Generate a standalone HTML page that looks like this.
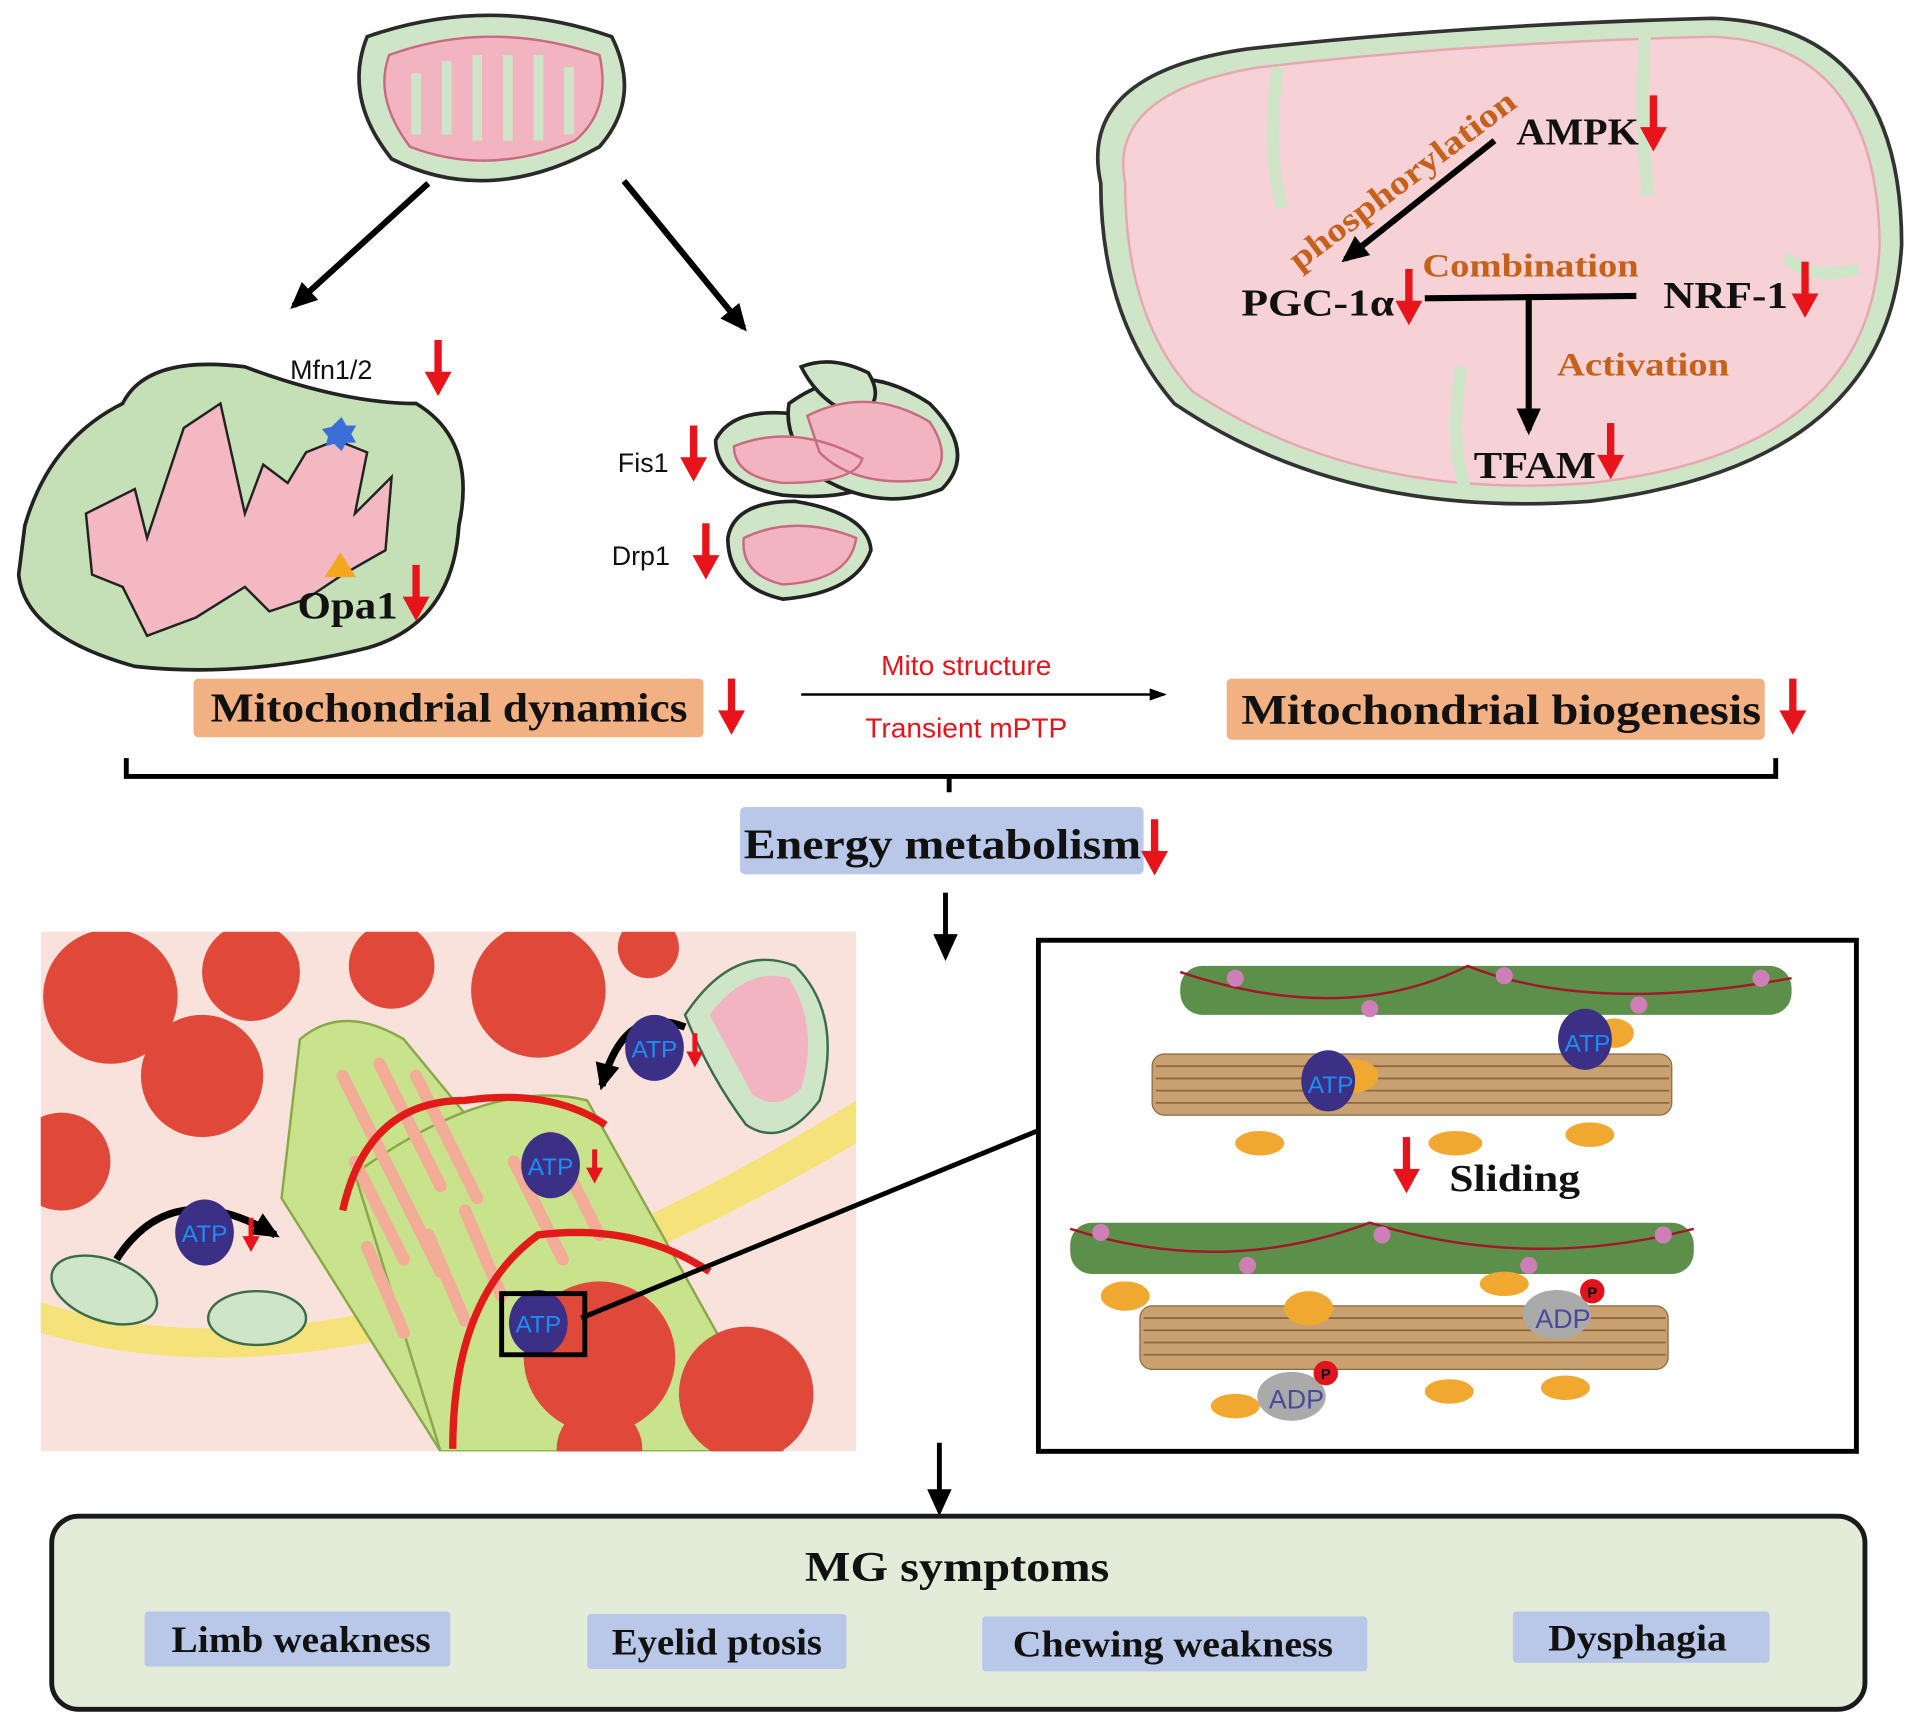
<!DOCTYPE html>
<html><head><meta charset="utf-8"><style>
html,body{margin:0;padding:0;background:#fff}
svg{display:block}
.b{font-family:"Liberation Serif",serif;font-weight:bold}
.s{font-family:"Liberation Sans",sans-serif}
</style></head><body>
<svg width="1913" height="1724" viewBox="0 0 1564 1410" xmlns="http://www.w3.org/2000/svg">
<defs>
<marker id="ah" markerWidth="22" markerHeight="20" refX="18" refY="10" orient="auto" markerUnits="userSpaceOnUse"><path d="M0,0 L22,10 L0,20 z" fill="#000"/></marker>
<marker id="as" markerWidth="14" markerHeight="10" refX="12" refY="5" orient="auto" markerUnits="userSpaceOnUse"><path d="M0,0 L14,5 L0,10 z" fill="#000"/></marker>
<g id="ra"><rect x="-3" y="0" width="6" height="30" fill="#e8141b"/><path d="M-11,26 L11,26 L0,46 z" fill="#e8141b"/></g>
<g id="rs"><rect x="-2" y="0" width="4" height="18" fill="#e8141b"/><path d="M-7,15 L7,15 L0,28 z" fill="#e8141b"/></g>
<clipPath id="mc"><rect x="33" y="762" width="667" height="425"/></clipPath>
</defs>
<rect width="1564" height="1410" fill="#fff"/>
<!-- top mito -->
<path d="M300,30 Q400,-5 500,30 Q525,80 490,120 Q400,170 320,130 Q280,80 300,30z" fill="#cfe5c8" stroke="#2a2a2a" stroke-width="3"/>
<path d="M318,45 Q400,15 490,45 Q500,90 470,115 Q400,145 335,120 Q305,80 318,45z" fill="#f2b4c0" stroke="#c86a80" stroke-width="2"/>
<path d="M340,60 v50 M365,50 v60 M390,45 v70 M415,45 v70 M440,45 v70 M465,55 v55" stroke="#cfe5c8" stroke-width="8"/>
<line x1="350" y1="150" x2="240" y2="250" stroke="#000" stroke-width="5" marker-end="url(#ah)"/>
<line x1="510" y1="148" x2="608" y2="268" stroke="#000" stroke-width="5" marker-end="url(#ah)"/>
<!-- left mito -->
<path d="M20,430 Q40,360 100,330 Q120,290 200,300 Q280,330 340,330 Q390,360 375,430 Q370,510 300,530 Q200,555 110,545 Q20,520 15,470z" fill="#c5e0b6" stroke="#222" stroke-width="3"/>
<path d="M70,420 L110,400 L120,440 L150,350 L180,330 L200,420 L215,380 L235,395 L250,370 L275,360 L300,370 L290,420 L320,390 L315,450 L280,470 L250,490 L220,500 L200,480 L160,505 L120,520 L100,480 L75,470z" fill="#f4b8c2" stroke="#222" stroke-width="2"/>
<path d="M273,347 l6,-6 l4,7 l8,0 l-4,7 l4,7 l-8,0 l-4,7 l-6,-6 l-7,2 l2,-8 l-5,-6 l8,-2z" fill="#3a6fd8"/>
<path d="M265,472 L278,452 L291,472z" fill="#f2a81a"/>
<text x="237" y="310" class="s" font-size="22" fill="#111">Mfn1/2</text>
<use href="#ra" x="358" y="278"/>
<text x="243" y="506" class="b" font-size="32" fill="#111" textLength="82" lengthAdjust="spacingAndGlyphs">Opa1</text>
<use href="#ra" x="340" y="462"/>
<!-- small mitos -->
<path d="M585,360 Q600,330 660,340 Q720,350 720,390 Q700,410 640,405 Q585,395 585,360z" fill="#cfe5c8" stroke="#222" stroke-width="3"/>
<path d="M645,330 Q700,290 760,330 Q800,370 770,400 Q720,420 670,390 Q640,360 645,330z" fill="#cfe5c8" stroke="#222" stroke-width="3"/>
<path d="M655,300 Q680,290 710,305 Q725,330 700,340 Q670,330 655,300z" fill="#cfe5c8" stroke="#222" stroke-width="3"/>
<path d="M595,440 Q600,410 650,410 Q710,420 712,450 Q700,485 640,490 Q595,480 595,440z" fill="#cfe5c8" stroke="#222" stroke-width="3"/>
<path d="M600,365 Q650,345 705,375 Q700,395 640,395 Q600,390 600,365z M660,340 Q710,315 760,345 Q780,375 760,392 Q700,400 670,370z M608,440 Q650,420 700,440 Q695,475 640,478 Q605,470 608,440z" fill="#f2b4c0" stroke="#c86a80" stroke-width="2"/>
<text x="505" y="386" class="s" font-size="22" fill="#111">Fis1</text>
<use href="#ra" x="567" y="348"/>
<text x="500" y="462" class="s" font-size="22" fill="#111">Drp1</text>
<use href="#ra" x="577" y="428"/>
<!-- big mito right -->
<path d="M900,150 Q880,60 1020,40 Q1200,20 1400,15 Q1555,20 1555,200 Q1545,380 1300,410 Q1100,425 960,330 Q900,260 900,150z" fill="#cfe5c8" stroke="#333" stroke-width="3"/>
<path d="M920,150 Q905,75 1030,55 Q1200,35 1400,30 Q1535,35 1537,200 Q1530,370 1300,395 Q1110,410 975,320 Q920,260 920,150z" fill="#f6d2d6" stroke="#e6a8b0" stroke-width="2"/>
<path d="M1045,55 Q1035,120 1048,170 M1345,30 Q1340,100 1348,160 M1195,300 Q1185,360 1198,400 M1520,220 Q1480,230 1460,210" stroke="#cfe5c8" stroke-width="10" fill="none"/>
<text x="1240" y="118" class="b" font-size="31" fill="#111" textLength="100" lengthAdjust="spacingAndGlyphs">AMPK</text>
<use href="#ra" x="1352" y="78"/>
<line x1="1222" y1="115" x2="1100" y2="212" stroke="#000" stroke-width="5" marker-end="url(#ah)"/>
<text x="0" y="0" class="b" font-size="27" fill="#c5611b" transform="translate(1062,222) rotate(-37)" textLength="225" lengthAdjust="spacingAndGlyphs">phosphorylation</text>
<text x="1015" y="258" class="b" font-size="31" fill="#111" textLength="125" lengthAdjust="spacingAndGlyphs">PGC-1α</text>
<use href="#ra" x="1152" y="220"/>
<text x="1360" y="252" class="b" font-size="31" fill="#111" textLength="102" lengthAdjust="spacingAndGlyphs">NRF-1</text>
<use href="#ra" x="1476" y="214"/>
<text x="1163" y="226" class="b" font-size="27" fill="#c5611b" textLength="177" lengthAdjust="spacingAndGlyphs">Combination</text>
<line x1="1165" y1="244" x2="1338" y2="242" stroke="#000" stroke-width="5"/>
<line x1="1250" y1="244" x2="1250" y2="352" stroke="#000" stroke-width="5" marker-end="url(#ah)"/>
<text x="1273" y="307" class="b" font-size="27" fill="#c5611b" textLength="141" lengthAdjust="spacingAndGlyphs">Activation</text>
<text x="1205" y="391" class="b" font-size="31" fill="#111" textLength="100" lengthAdjust="spacingAndGlyphs">TFAM</text>
<use href="#ra" x="1317" y="346"/>
<!-- row -->
<rect x="158" y="555" width="417" height="48" rx="4" fill="#f1b183"/>
<text x="172" y="590" class="b" font-size="34" fill="#111" textLength="390" lengthAdjust="spacingAndGlyphs">Mitochondrial dynamics</text>
<use href="#ra" x="598" y="555"/>
<text x="790" y="552" class="s" font-size="23" fill="#e8141b" text-anchor="middle">Mito structure</text>
<line x1="655" y1="568" x2="952" y2="568" stroke="#000" stroke-width="2" marker-end="url(#as)"/>
<text x="790" y="603" class="s" font-size="23" fill="#e8141b" text-anchor="middle">Transient mPTP</text>
<rect x="1003" y="555" width="440" height="50" rx="4" fill="#f1b183"/>
<text x="1015" y="592" class="b" font-size="35" fill="#111" textLength="425" lengthAdjust="spacingAndGlyphs">Mitochondrial biogenesis</text>
<use href="#ra" x="1466" y="555"/>
<path d="M103,620 V635 H1452 V620 M776,635 V648" stroke="#000" stroke-width="4" fill="none"/>
<rect x="605" y="660" width="330" height="55" rx="4" fill="#b9c8e8"/>
<text x="608" y="702" class="b" font-size="35" fill="#111" textLength="325" lengthAdjust="spacingAndGlyphs">Energy metabolism</text>
<use href="#ra" x="944" y="670"/>
<line x1="773" y1="730" x2="773" y2="782" stroke="#000" stroke-width="4" marker-end="url(#ah)"/>
<!-- muscle -->
<g clip-path="url(#mc)">
<rect x="33" y="762" width="667" height="425" fill="#f9e2dc"/>
<path d="M33,1065 Q300,1150 700,900 L700,935 Q300,1170 33,1090z" fill="#f6e27a"/>
<g fill="#e0483a">
<circle cx="90" cy="815" r="55"/><circle cx="205" cy="795" r="40"/><circle cx="320" cy="790" r="35"/><circle cx="440" cy="810" r="55"/><circle cx="530" cy="775" r="25"/><circle cx="165" cy="880" r="50"/><circle cx="50" cy="950" r="40"/>
</g>
<path d="M245,850 Q280,820 330,850 L560,1130 L560,1187 L360,1187 L230,980z" fill="#c9e28c" stroke="#8aa84a" stroke-width="2"/>
<path d="M290,960 Q400,880 480,900 L640,1187 L360,1187z" fill="#c9e28c" stroke="#8aa84a" stroke-width="2"/>
<g stroke="#f2ac98" stroke-width="10" stroke-linecap="round">
<path d="M280,880 l40,80 M310,870 l50,100 M340,880 l50,100 M290,950 l40,80 M320,960 l40,80 M380,990 l30,70 M350,1010 l30,70 M420,950 l40,80 M450,930 l40,80 M300,1020 l30,70"/>
</g>
<path d="M280,990 Q300,900 380,900 Q450,890 495,920 M370,1185 Q370,1060 440,1010 Q520,1000 580,1040" stroke="#e11c18" stroke-width="6" fill="none"/>
<circle cx="490" cy="1110" r="62" fill="#e0483a"/><circle cx="610" cy="1140" r="55" fill="#e0483a"/><circle cx="490" cy="1185" r="35" fill="#e0483a"/>
</g>
<path d="M560,830 Q600,770 650,790 Q690,830 670,900 Q640,940 610,920 Q580,880 560,830z" fill="#cfe5c8" stroke="#3b6b4a" stroke-width="2"/>
<path d="M580,830 Q610,790 645,800 Q670,840 655,890 Q635,910 615,895z" fill="#f2b4c0"/>
<ellipse cx="85" cy="1055" rx="45" ry="25" fill="#cfe5c8" stroke="#3b6b4a" stroke-width="2" transform="rotate(20 85 1055)"/>
<ellipse cx="210" cy="1078" rx="40" ry="22" fill="#cfe5c8" stroke="#3b6b4a" stroke-width="2"/>
<path d="M95,1030 Q140,960 225,1010" stroke="#000" stroke-width="6" fill="none" marker-end="url(#ah)"/>
<path d="M560,840 Q510,820 492,888" stroke="#000" stroke-width="6" fill="none" marker-end="url(#ah)"/>
<g class="s" font-size="20" fill="#1e8ef0">
<ellipse cx="535" cy="857" rx="24" ry="27" fill="#3b2f86"/><text x="535" y="865" text-anchor="middle">ATP</text>
<ellipse cx="450" cy="953" rx="24" ry="27" fill="#3b2f86"/><text x="450" y="961" text-anchor="middle">ATP</text>
<ellipse cx="167" cy="1008" rx="24" ry="27" fill="#3b2f86"/><text x="167" y="1016" text-anchor="middle">ATP</text>
<ellipse cx="440" cy="1082" rx="24" ry="27" fill="#3b2f86"/><text x="440" y="1090" text-anchor="middle">ATP</text>
</g>
<use href="#rs" x="568" y="845"/><use href="#rs" x="486" y="940"/><use href="#rs" x="205" y="996"/>
<rect x="410" y="1058" width="68" height="50" fill="none" stroke="#000" stroke-width="4"/>
<line x1="475" y1="1078" x2="848" y2="925" stroke="#000" stroke-width="4"/>
<!-- sarcomere box -->
<rect x="849" y="769" width="669" height="418" fill="#fff" stroke="#000" stroke-width="4"/>
<g>
<rect x="965" y="790" width="500" height="40" rx="18" fill="#5b8f4a"/>
<rect x="875" y="1000" width="510" height="42" rx="18" fill="#5b8f4a"/>
<path d="M965,795 Q1100,840 1200,790 Q1300,830 1465,800 M875,1005 Q1000,1045 1120,1000 Q1250,1040 1385,1005" stroke="#a0182a" stroke-width="2" fill="none"/>
<g fill="#cf7fb8"><circle cx="1010" cy="800" r="7"/><circle cx="1120" cy="825" r="7"/><circle cx="1230" cy="798" r="7"/><circle cx="1340" cy="822" r="7"/><circle cx="1440" cy="800" r="7"/><circle cx="900" cy="1008" r="7"/><circle cx="1020" cy="1035" r="7"/><circle cx="1130" cy="1010" r="7"/><circle cx="1250" cy="1035" r="7"/><circle cx="1360" cy="1010" r="7"/></g>
<rect x="942" y="862" width="425" height="50" rx="10" fill="#c9a070" stroke="#8a6a40"/>
<rect x="932" y="1068" width="432" height="52" rx="10" fill="#c9a070" stroke="#8a6a40"/>
<g stroke="#8a6a40" stroke-width="1.5"><path d="M945,872 H1365 M945,882 H1365 M945,892 H1365 M945,902 H1365 M935,1078 H1362 M935,1088 H1362 M935,1098 H1362 M935,1108 H1362"/></g>
<g fill="#f0a830"><ellipse cx="1105" cy="880" rx="22" ry="14"/><ellipse cx="1030" cy="935" rx="20" ry="10"/><ellipse cx="1190" cy="935" rx="22" ry="10"/><ellipse cx="1300" cy="928" rx="20" ry="10"/><ellipse cx="1320" cy="845" rx="16" ry="12"/><ellipse cx="920" cy="1060" rx="20" ry="12"/><ellipse cx="1070" cy="1070" rx="20" ry="14"/><ellipse cx="1230" cy="1050" rx="20" ry="10"/><ellipse cx="1010" cy="1150" rx="20" ry="10"/><ellipse cx="1185" cy="1138" rx="20" ry="10"/><ellipse cx="1280" cy="1135" rx="20" ry="10"/></g>
<g class="s" font-size="20" fill="#1e8ef0">
<ellipse cx="1296" cy="850" rx="22" ry="25" fill="#3b2f86"/><text x="1298" y="860" text-anchor="middle">ATP</text>
<ellipse cx="1086" cy="884" rx="22" ry="25" fill="#3b2f86"/><text x="1088" y="894" text-anchor="middle">ATP</text>
</g>
<g class="s" font-size="22" fill="#4a4a9a">
<ellipse cx="1273" cy="1075" rx="28" ry="20" fill="#aaa"/><text x="1278" y="1086" text-anchor="middle">ADP</text>
<ellipse cx="1056" cy="1142" rx="28" ry="20" fill="#aaa"/><text x="1060" y="1152" text-anchor="middle">ADP</text>
</g>
<circle cx="1302" cy="1056" r="10" fill="#e0141b"/><text x="1302" y="1061" class="s" font-size="12" font-weight="bold" text-anchor="middle">P</text>
<circle cx="1084" cy="1123" r="10" fill="#e0141b"/><text x="1084" y="1128" class="s" font-size="12" font-weight="bold" text-anchor="middle">P</text>
</g>
<use href="#ra" x="1150" y="930"/>
<text x="1185" y="974" class="b" font-size="31" fill="#111" textLength="107" lengthAdjust="spacingAndGlyphs">Sliding</text>
<line x1="768" y1="1180" x2="768" y2="1236" stroke="#000" stroke-width="4" marker-end="url(#ah)"/>
<!-- MG symptoms -->
<rect x="42" y="1240" width="1483" height="158" rx="22" fill="#e3ecd9" stroke="#1a1a1a" stroke-width="4"/>
<text x="658" y="1293" class="b" font-size="35" fill="#111" textLength="249" lengthAdjust="spacingAndGlyphs">MG symptoms</text>
<rect x="118" y="1318" width="250" height="45" rx="3" fill="#b9c8e8"/>
<text x="140" y="1351" class="b" font-size="30" fill="#111" textLength="212" lengthAdjust="spacingAndGlyphs">Limb weakness</text>
<rect x="480" y="1320" width="212" height="45" rx="3" fill="#b9c8e8"/>
<text x="500" y="1353" class="b" font-size="30" fill="#111" textLength="172" lengthAdjust="spacingAndGlyphs">Eyelid ptosis</text>
<rect x="803" y="1322" width="315" height="45" rx="3" fill="#b9c8e8"/>
<text x="828" y="1355" class="b" font-size="30" fill="#111" textLength="262" lengthAdjust="spacingAndGlyphs">Chewing weakness</text>
<rect x="1237" y="1318" width="210" height="42" rx="3" fill="#b9c8e8"/>
<text x="1266" y="1350" class="b" font-size="30" fill="#111" textLength="146" lengthAdjust="spacingAndGlyphs">Dysphagia</text>
</svg>
</body></html>
